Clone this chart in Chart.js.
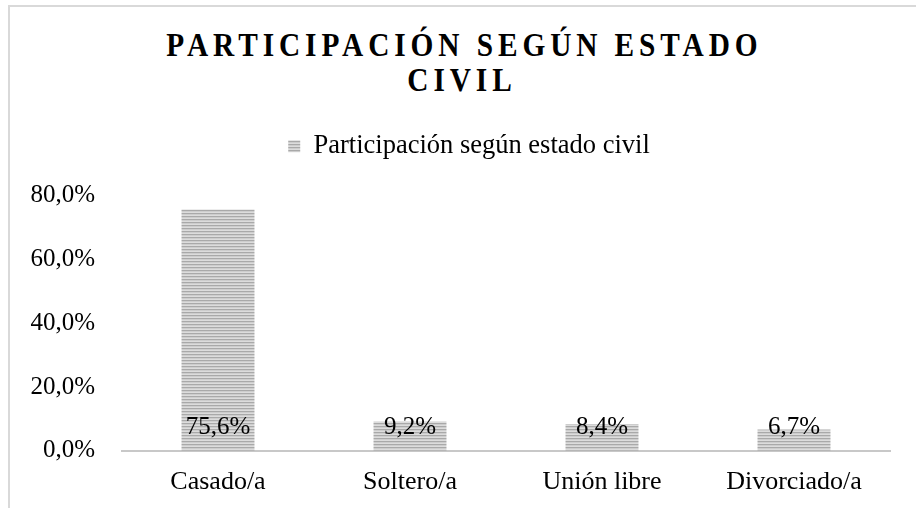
<!DOCTYPE html>
<html>
<head>
<meta charset="utf-8">
<script src="https://cdn.jsdelivr.net/npm/chart.js@4.4.1/dist/chart.umd.min.js"></script>
<style>
    html, body { margin: 0; padding: 0; background: #fff; overflow: hidden; }
    body { width: 916px; height: 508px; position: relative; }
    .frame {
        position: absolute; left: 8px; top: 5px; width: 920px; height: 520px;
        border-left: 2px solid #d9d9d9; border-top: 2px solid #d9d9d9;
    }
    .title {
        position: absolute; left: 8px; width: 908px; top: 28px; text-align: center;
        font-family: "Liberation Serif", "Times New Roman", serif; font-weight: bold;
        font-size: 33px; line-height: 35px; letter-spacing: 5.5px; text-indent: 5.5px; color: #000;
        transform: scaleX(0.89); transform-origin: 50% 0;
    }
    #chart { position: absolute; left: 0; top: 0; }
</style>
</head>
<body>
<div class="frame"></div>
<div class="title">PARTICIPACIÓN SEGÚN ESTADO<br>CIVIL</div>
<canvas id="chart" width="916" height="508"></canvas>
<script>
    var categories = ['Casado/a', 'Soltero/a', 'Unión libre', 'Divorciado/a'];
    var values = [75.6, 9.2, 8.4, 6.7];
    var yTickValues = [0, 20, 40, 60, 80];
    var seriesName = 'Participación según estado civil';

    var serif = '"Liberation Serif", "Times New Roman", serif';

    function makeStripes() {
        var c = document.createElement('canvas');
        c.width = 4;
        c.height = 3;
        var g = c.getContext('2d');
        var rows = ['#a9a9a9', '#cdcdcd', '#dcdcdc'];
        for (var i = 0; i < rows.length; i++) {
            g.fillStyle = rows[i];
            g.fillRect(0, i, 4, 1);
        }
        return g.createPattern(c, 'repeat');
    }

    function fmt(v) {
        return v.toFixed(1).replace('.', ',') + '%';
    }

    // labels sitting inside the base of each bar
    var barLabels = {
        id: 'barLabels',
        afterDatasetsDraw: function (chart) {
            var ctx = chart.ctx;
            var meta = chart.getDatasetMeta(0);
            var base = chart.scales.y.getPixelForValue(0);
            ctx.save();
            ctx.font = '25px ' + serif;
            ctx.fillStyle = '#000';
            ctx.textAlign = 'center';
            ctx.textBaseline = 'alphabetic';
            meta.data.forEach(function (bar, i) {
                ctx.fillText(fmt(values[i]), bar.x, base - 17);
            });
            ctx.restore();
        }
    };

    // extra room between legend and plot, legend nudged right
    var legendGap = {
        id: 'legendGap',
        beforeInit: function (chart) {
            var fitOrig = chart.legend.fit;
            chart.legend.fit = function () {
                fitOrig.bind(chart.legend)();
                this.height += 26;
            };
        },
        afterLayout: function (chart) {
            chart.legend.left += 18;
        }
    };

    var stripes = makeStripes();

    new Chart(document.getElementById('chart'), {
        type: 'bar',
        data: {
            labels: categories,
            datasets: [{
                label: seriesName,
                data: values,
                backgroundColor: stripes,
                borderWidth: 0,
                categoryPercentage: 1,
                barPercentage: 0.38
            }]
        },
        options: {
            responsive: false,
            animation: false,
            layout: { padding: { left: 30, right: 26, top: 123, bottom: -6 } },
            plugins: {
                title: { display: false },
                tooltip: { enabled: false },
                legend: {
                    display: true,
                    position: 'top',
                    labels: {
                        boxWidth: 12,
                        boxHeight: 12,
                        padding: 10,
                        color: '#000',
                        font: { family: serif, size: 26.5 }
                    }
                }
            },
            scales: {
                x: {
                    grid: { display: false, drawTicks: false },
                    border: { display: true, color: '#c8c8c8', width: 2 },
                    ticks: { color: '#000', padding: 16, font: { family: serif, size: 26 } },
                    afterFit: function (axis) {
                        axis.paddingLeft = 0;
                        axis.paddingRight = 0;
                    }
                },
                y: {
                    min: 0,
                    max: 80,
                    grid: { display: false, drawTicks: false },
                    border: { display: false },
                    afterBuildTicks: function (axis) {
                        axis.ticks = yTickValues.map(function (v) { return { value: v }; });
                    },
                    afterFit: function (axis) {
                        axis.width = 92;
                        axis.paddingTop = 0;
                        axis.paddingBottom = 0;
                    },
                    ticks: {
                        color: '#000',
                        padding: 27,
                        font: { family: serif, size: 25 },
                        callback: function (v) { return fmt(v); }
                    }
                }
            }
        },
        plugins: [barLabels, legendGap]
    });
</script>
</body>
</html>
